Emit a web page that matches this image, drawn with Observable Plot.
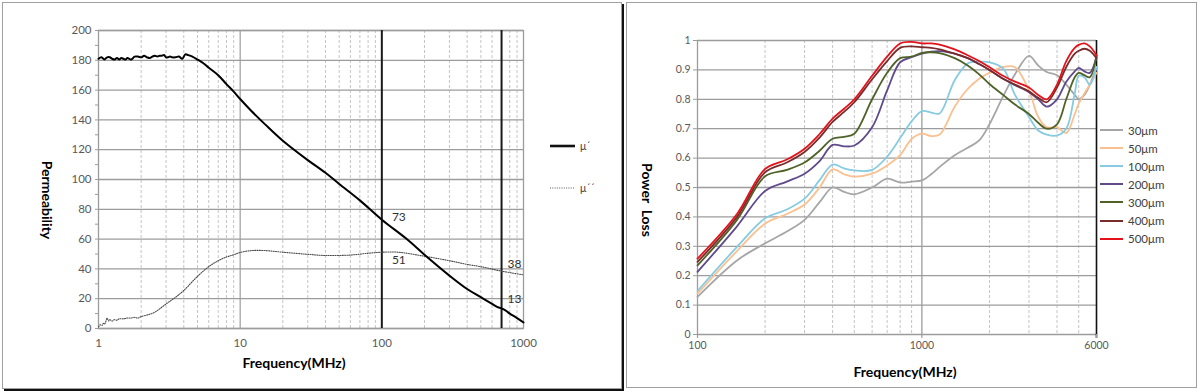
<!DOCTYPE html>
<html>
<head>
<meta charset="utf-8">
<script src="https://cdn.jsdelivr.net/npm/d3@7"></script>
<script src="https://cdn.jsdelivr.net/npm/@observablehq/plot@0.6"></script>
<style>
  body { margin: 0; background: #fff; font-family: Lato, "Open Sans", sans-serif; }
  #root { position: relative; width: 1200px; height: 391px; overflow: hidden; background: #fff; }
  .panel { position: absolute; box-sizing: border-box; border: 1px solid #a0a0a0; background: #fff; }
  .chart { position: absolute; top: 0; }
  .chart svg { display: block; background: transparent; max-width: none; }
  .title { position: absolute; font-weight: bold; font-size: 14px; color: #000; white-space: nowrap; transform: translate(-50%, -50%); }
  .vtitle { position: absolute; font-weight: bold; font-size: 14px; color: #000; white-space: nowrap; transform: translate(-50%, -50%) rotate(90deg); }
  .legend { position: absolute; color: #404040; }
  .legend .row { display: flex; align-items: center; white-space: nowrap; }
  .legend svg { display: block; margin-right: 4px; }
</style>
</head>
<body>
<div id="root">
  <div class="panel" style="left:2px;top:2px;width:620px;height:387px;box-shadow:2px 2px 0 #111;"></div>
  <div class="panel" style="left:626px;top:2px;width:571px;height:386px;"></div>
  <div class="chart" id="leftChart" style="left:0px;"></div>
  <div class="chart" id="rightChart" style="left:625px;"></div>
  <div class="title" style="left:294px;top:362px;">Frequency(MHz)</div>
  <div class="vtitle" style="left:47px;top:200px;">Permeability</div>
  <div class="title" style="left:905px;top:371px;">Frequency(MHz)</div>
  <div class="vtitle" style="left:647px;top:200px;">Power&nbsp; Loss</div>
  <div class="legend" id="leftLegend" style="left:550px;top:125px;font-size:10.5px;"></div>
  <div class="legend" id="rightLegend" style="left:1100px;top:121px;font-size:11.5px;"></div>
</div>
<script>
// ---------- Left chart data: permeability vs frequency ----------
const freqReal = [1,1.05,1.1,1.15,1.2,1.25,1.3,1.35,1.4,1.45,1.5,1.55,1.6,1.7,1.8,1.9,2,2.1,2.2,2.3,2.4,2.5,2.6,2.7,2.8,2.9,3,3.1,3.2,3.3,3.5,3.7,3.9,4.1,4.3,4.6,5,5.5,6,7,8,9,10,12,15,20,30,40,50,70,100,150,200,300,400,500,600,650,700,750,800,900,1000];
const muReal   = [181,182,180.5,182,182,181,180.5,181.5,180.5,181.5,181,180.5,181.5,180.5,182.5,182.5,182,183,182,181.5,182.5,183,182.5,183,183,183.5,182,182,182.5,182,182,182.5,181,184,183.5,182.5,180.5,178,175,170,164,159,154,146,137,126,113,104.5,97,86,73,60,49.5,35.5,26.5,21,16.5,14.5,13.5,12,10,7,4];
const freqImag = [1,1.03,1.06,1.08,1.1,1.12,1.15,1.18,1.2,1.25,1.3,1.35,1.4,1.5,1.6,1.7,1.8,1.9,2,2.2,2.5,3,3.5,4,5,6,7,8,9,10,12,15,20,30,40,60,80,100,130,200,300,400,500,700,1000];
const muImag   = [1,2.5,2,3.5,3,4,7,5,6,5,6,5.5,6.5,6.5,7,7,7.5,7,8,9,11,16.5,21,25.5,35,41.5,45.5,48,49.5,51,52.3,52.3,51.2,49.8,49,49.3,50.5,51.2,51.2,48.5,45.5,43,41.5,38.5,36];
const leftXTicks = [1, 10, 100, 700, 1000];
const leftYTicks = [0, 20, 40, 60, 80, 100, 120, 140, 160, 180, 200];
const markerFreqs = [100, 700];
const noteFreqs = [100, 100, 700, 700];
const noteValues = [73, 51, 38, 13];
const leftSeries = ["μ´", "μ´´"];

// ---------- Right chart data: power loss vs frequency ----------
const freqs = [100,150,200,250,300,350,400,450,500,600,700,800,900,1000,1100,1200,1400,1600,1800,2000,2300,2600,3000,3300,3600,4000,4400,4800,5000,5300,5600,6000];
const loss30  = [0.128,0.252,0.31,0.35,0.39,0.45,0.50,0.485,0.477,0.50,0.53,0.517,0.52,0.524,0.545,0.57,0.61,0.635,0.66,0.715,0.81,0.885,0.948,0.915,0.893,0.882,0.85,0.815,0.80,0.815,0.85,0.91];
const loss50  = [0.139,0.284,0.377,0.41,0.442,0.50,0.562,0.545,0.537,0.547,0.575,0.61,0.665,0.683,0.675,0.68,0.775,0.835,0.87,0.89,0.91,0.909,0.83,0.74,0.705,0.705,0.685,0.75,0.785,0.82,0.85,0.89];
const loss100 = [0.148,0.298,0.395,0.425,0.462,0.525,0.578,0.565,0.558,0.56,0.605,0.668,0.725,0.76,0.755,0.752,0.865,0.922,0.928,0.926,0.905,0.815,0.74,0.694,0.68,0.677,0.70,0.82,0.88,0.875,0.85,0.91];
const loss200 = [0.213,0.368,0.488,0.52,0.547,0.59,0.645,0.64,0.643,0.705,0.83,0.926,0.943,0.955,0.962,0.964,0.955,0.94,0.92,0.90,0.87,0.848,0.824,0.80,0.775,0.80,0.86,0.895,0.907,0.895,0.89,0.945];
const loss300 = [0.235,0.39,0.538,0.56,0.585,0.625,0.666,0.672,0.683,0.80,0.89,0.94,0.945,0.958,0.96,0.957,0.94,0.915,0.885,0.852,0.815,0.782,0.75,0.72,0.70,0.715,0.80,0.875,0.89,0.882,0.875,0.95];
const loss400 = [0.247,0.40,0.552,0.585,0.621,0.67,0.723,0.757,0.79,0.868,0.93,0.975,0.98,0.977,0.975,0.97,0.955,0.94,0.92,0.90,0.87,0.85,0.827,0.805,0.79,0.84,0.91,0.955,0.965,0.972,0.965,0.94];
const loss500 = [0.258,0.41,0.563,0.595,0.632,0.682,0.734,0.768,0.80,0.88,0.945,0.99,0.995,0.99,0.99,0.986,0.97,0.95,0.93,0.909,0.88,0.86,0.84,0.815,0.80,0.85,0.93,0.975,0.985,0.99,0.98,0.95];
const seriesNames  = ["30μm", "50μm", "100μm", "200μm", "300μm", "400μm", "500μm"];
const seriesColors = ["#a6a6a6", "#fac090", "#86cbe0", "#604a8b", "#4f6228", "#7a2c2c", "#e3121a"];
const rightXTicks = [100, 1000, 6000];
const rightYTicks = [0, 0.1, 0.2, 0.3, 0.4, 0.5, 0.6, 0.7, 0.8, 0.9, 1];

// ---------- tables built from the arrays ----------
const realRows = freqReal.map((f, i) => ({freq: f, value: muReal[i]}));
const imagRows = freqImag.map((f, i) => ({freq: f, value: muImag[i]}));
const lossSeries = [loss30, loss50, loss100, loss200, loss300, loss400, loss500];
const lossRows = lossSeries.flatMap((arr, s) => freqs.map((f, i) => ({freq: f, loss: arr[i], series: seriesNames[s]})));
const notes = noteFreqs.map((f, i) => ({freq: f, value: noteValues[i]}));

function minorLog(lo, hi) {
  const out = [];
  for (let d = lo; d < hi; d *= 10) for (let k = 2; k <= 9; k++) if (d * k < hi) out.push(d * k);
  return out;
}
const gridGray = "#9c9c9c";
const minorGray = "#c4c4c4";
const textGray = "#595959";

// ---------- Left chart ----------
const noteOffsets = [[17, -3], [17, 8], [13, -8], [13, -10]];
const leftPlot = Plot.plot({
  width: 625, height: 391,
  marginLeft: 98, marginRight: 102, marginTop: 30, marginBottom: 63,
  style: {background: "transparent", fontFamily: "Lato, 'Open Sans', sans-serif", fontSize: "11.5px", color: textGray, overflow: "visible"},
  x: {type: "log", domain: [1, 1000]},
  y: {domain: [0, 200]},
  marks: [
    Plot.gridX(minorLog(1, 1000), {stroke: minorGray, strokeOpacity: 1, strokeDasharray: "3,2"}),
    Plot.gridX([10], {stroke: gridGray, strokeOpacity: 1, strokeWidth: 1.2}),
    Plot.gridY(leftYTicks, {stroke: gridGray, strokeOpacity: 1, strokeWidth: 1.3}),
    Plot.frame({stroke: gridGray, strokeWidth: 1.3}),
    Plot.axisY(d3.range(0, 201, 10), {tickSize: 3, tickPadding: 4, stroke: gridGray, fill: textGray, label: null,
      tickFormat: d => (d % 20 === 0 ? String(d) : "")}),
    Plot.axisX(leftXTicks, {tickSize: 0, tickPadding: 10, fill: textGray, label: null, tickFormat: d => String(d)}),
    Plot.ruleX(markerFreqs, {stroke: "#1a1a1a", strokeWidth: 2}),
    Plot.line(imagRows, {x: "freq", y: "value", stroke: "#4a4a4a", strokeWidth: 1.1, strokeDasharray: "1,1.3", curve: "catmull-rom"}),
    Plot.line(realRows, {x: "freq", y: "value", stroke: "#000", strokeWidth: 2, curve: "catmull-rom"}),
    ...notes.map((n, i) => Plot.text([n], {x: "freq", y: "value", text: d => String(d.value),
      dx: noteOffsets[i][0], dy: noteOffsets[i][1], fill: "#333", fontSize: 12}))
  ]
});
document.getElementById("leftChart").append(leftPlot);

// ---------- Right chart ----------
const rightPlot = Plot.plot({
  width: 575, height: 391,
  marginLeft: 72, marginRight: 104, marginTop: 40, marginBottom: 57,
  style: {background: "transparent", fontFamily: "Lato, 'Open Sans', sans-serif", fontSize: "10.5px", color: textGray, overflow: "visible"},
  x: {type: "log", domain: [100, 6000], axis: null},
  y: {domain: [0, 1]},
  color: {domain: seriesNames, range: seriesColors},
  marks: [
    Plot.gridX(minorLog(100, 6000), {stroke: minorGray, strokeOpacity: 1, strokeDasharray: "3,2"}),
    Plot.gridX([1000], {stroke: gridGray, strokeOpacity: 1, strokeWidth: 1.3}),
    Plot.gridY(rightYTicks, {stroke: gridGray, strokeOpacity: 1, strokeWidth: 1.3}),
    Plot.ruleX([100], {stroke: gridGray, strokeWidth: 1.3}),
    Plot.ruleX([6000], {stroke: "#111", strokeWidth: 1.6, insetBottom: -4}),
    Plot.axisY(rightYTicks, {tickSize: 4, tickPadding: 3, stroke: gridGray, fill: textGray, label: null,
      tickFormat: d => (d === 0 ? "0" : d === 1 ? "1" : d.toFixed(1))}),
    Plot.ruleX(rightXTicks, {x: d => d, y1: 0, y2: 0, insetBottom: -4, stroke: gridGray, strokeWidth: 1.2}),
    Plot.text(rightXTicks, {x: d => d, frameAnchor: "bottom", dy: 14, text: d => String(d), fill: textGray}),
    Plot.line(lossRows, {x: "freq", y: "loss", z: "series", stroke: "series", strokeWidth: 1.8, curve: "catmull-rom"})
  ]
});
document.getElementById("rightChart").append(rightPlot);

// ---------- Legends (HTML) ----------
const leftLegend = document.getElementById("leftLegend");
leftSeries.forEach((name, i) => {
  const row = document.createElement("div");
  row.className = "row";
  row.style.height = "42px";
  row.innerHTML = `<svg width="26" height="6"><line x1="0" x2="25" y1="3" y2="3" stroke="${i === 0 ? "#111" : "#555"}" stroke-width="${i === 0 ? 2.6 : 1}" ${i === 0 ? "" : 'stroke-dasharray="1,1.3"'}/></svg><span>${name}</span>`;
  leftLegend.append(row);
});
const rightLegend = document.getElementById("rightLegend");
seriesNames.forEach((name, i) => {
  const row = document.createElement("div");
  row.className = "row";
  row.style.height = "18.1px";
  row.innerHTML = `<svg width="24" height="6"><line x1="0" x2="23" y1="3" y2="3" stroke="${seriesColors[i]}" stroke-width="2"/></svg><span>${name}</span>`;
  rightLegend.append(row);
});
</script>
</body>
</html>
